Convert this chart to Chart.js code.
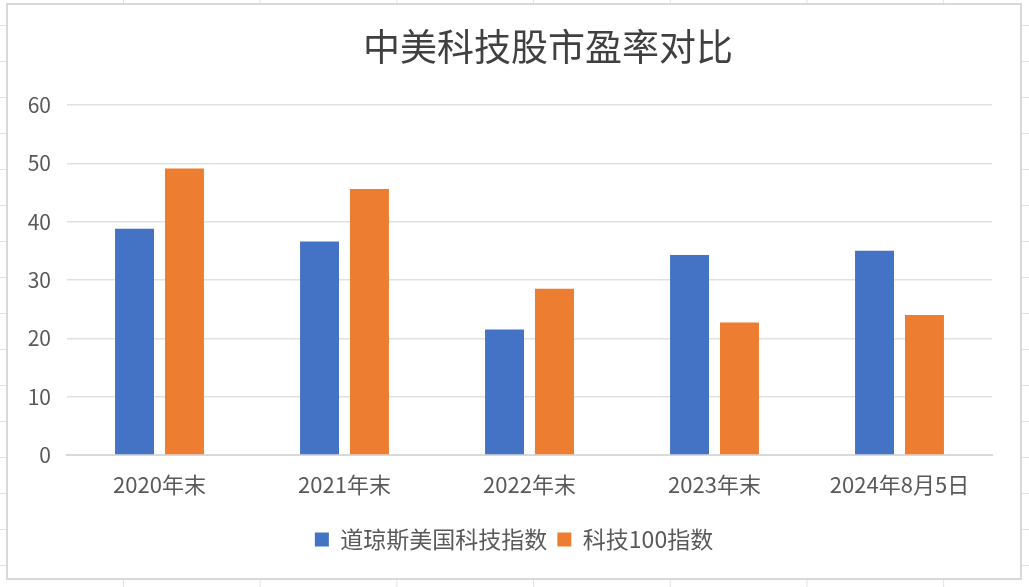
<!DOCTYPE html>
<html lang="zh-CN">
<head>
<meta charset="utf-8">
<title>中美科技股市盈率对比</title>
<script src="https://cdn.jsdelivr.net/npm/chart.js@4"></script>
<style>
  html, body {
    margin: 0;
    padding: 0;
    width: 1029px;
    height: 587px;
    overflow: hidden;
    background-color: #fff;
    /* 表格底纹 */
    background-image:
      linear-gradient(to right, #e3e3e3 1px, transparent 1px),
      linear-gradient(to bottom, #e3e3e3 1px, transparent 1px);
    background-size: 136.7px 100%, 100% 36px;
    background-position: 123px 0, 0 25px;
  }
  #box {
    position: absolute;
    left: 6px;
    top: 3px;
    width: 1012px;
    height: 573px;
    border: 2px solid #d9d9d9;
    background: #fff;
  }
</style>
</head>
<body>
<div id="box"><canvas id="chart" width="1012" height="573"></canvas></div>
<script>
// 数据
const titolo = "中美科技股市盈率对比";
const categorie = ["2020年末", "2021年末", "2022年末", "2023年末", "2024年8月5日"];
const nomiSerie = ["道琼斯美国科技指数", "科技100指数"];
const dowJonesTech = [38.8, 36.6, 21.5, 34.3, 35.0];
const tech100 = [49.1, 45.6, 28.5, 22.7, 24.0];
const yTicks = [0, 10, 20, 30, 40, 50, 60];

const FONT = "'Noto Sans CJK SC', 'Noto Sans', sans-serif";
const GRIGIO = "#595959";

// titolo disegnato a mano (centrato come nel riferimento)
const titoloPlugin = {
  id: "titoloPlugin",
  afterDraw(chart) {
    const c = chart.ctx;
    c.save();
    c.font = "normal 37px " + FONT;
    c.fillStyle = "#404040";
    c.textAlign = "center";
    c.textBaseline = "middle";
    c.fillText(titolo, 540, 42);
    c.restore();
  }
};

const ctx = document.getElementById("chart").getContext("2d");
new Chart(ctx, {
  type: "bar",
  data: {
    labels: categorie,
    datasets: [
      {
        label: nomiSerie[0],
        data: dowJonesTech,
        backgroundColor: "#4472C4",
        barPercentage: 0.78,
        categoryPercentage: 0.54
      },
      {
        label: nomiSerie[1],
        data: tech100,
        backgroundColor: "#ED7D31",
        barPercentage: 0.78,
        categoryPercentage: 0.54
      }
    ]
  },
  plugins: [titoloPlugin],
  options: {
    responsive: false,
    animation: false,
    layout: { padding: { left: 0, right: 0, top: 100, bottom: 17 } },
    plugins: {
      title: { display: false },
      legend: {
        position: "bottom",
        labels: {
          color: GRIGIO,
          font: { family: FONT, size: 23 },
          boxWidth: 14,
          boxHeight: 14,
          padding: 10
        }
      },
      tooltip: { enabled: false }
    },
    scales: {
      x: {
        grid: { display: false, drawTicks: false },
        border: { display: true, color: "#d9d9d9", width: 2 },
        afterFit: scale => {
          scale.height = 63;
        },
        ticks: {
          color: GRIGIO,
          font: { family: FONT, size: 22 },
          padding: 16,
          maxRotation: 0
        }
      },
      y: {
        min: 0,
        max: 60,
        afterBuildTicks: scale => {
          scale.ticks = yTicks.map(v => ({ value: v }));
        },
        afterFit: scale => {
          scale.width = 59;
        },
        grid: { color: "#e1e1e1", lineWidth: 1.5, drawTicks: false },
        border: { display: false },
        ticks: {
          color: GRIGIO,
          font: { family: FONT, size: 21 },
          padding: 16
        }
      },
      // asse vuoto a destra, solo per il margine
      yDestra: {
        position: "right",
        min: 0,
        max: 60,
        afterFit: scale => {
          scale.width = 28;
        },
        grid: { display: false, drawTicks: false },
        border: { display: false },
        ticks: { display: false }
      }
    }
  }
});
</script>
</body>
</html>
